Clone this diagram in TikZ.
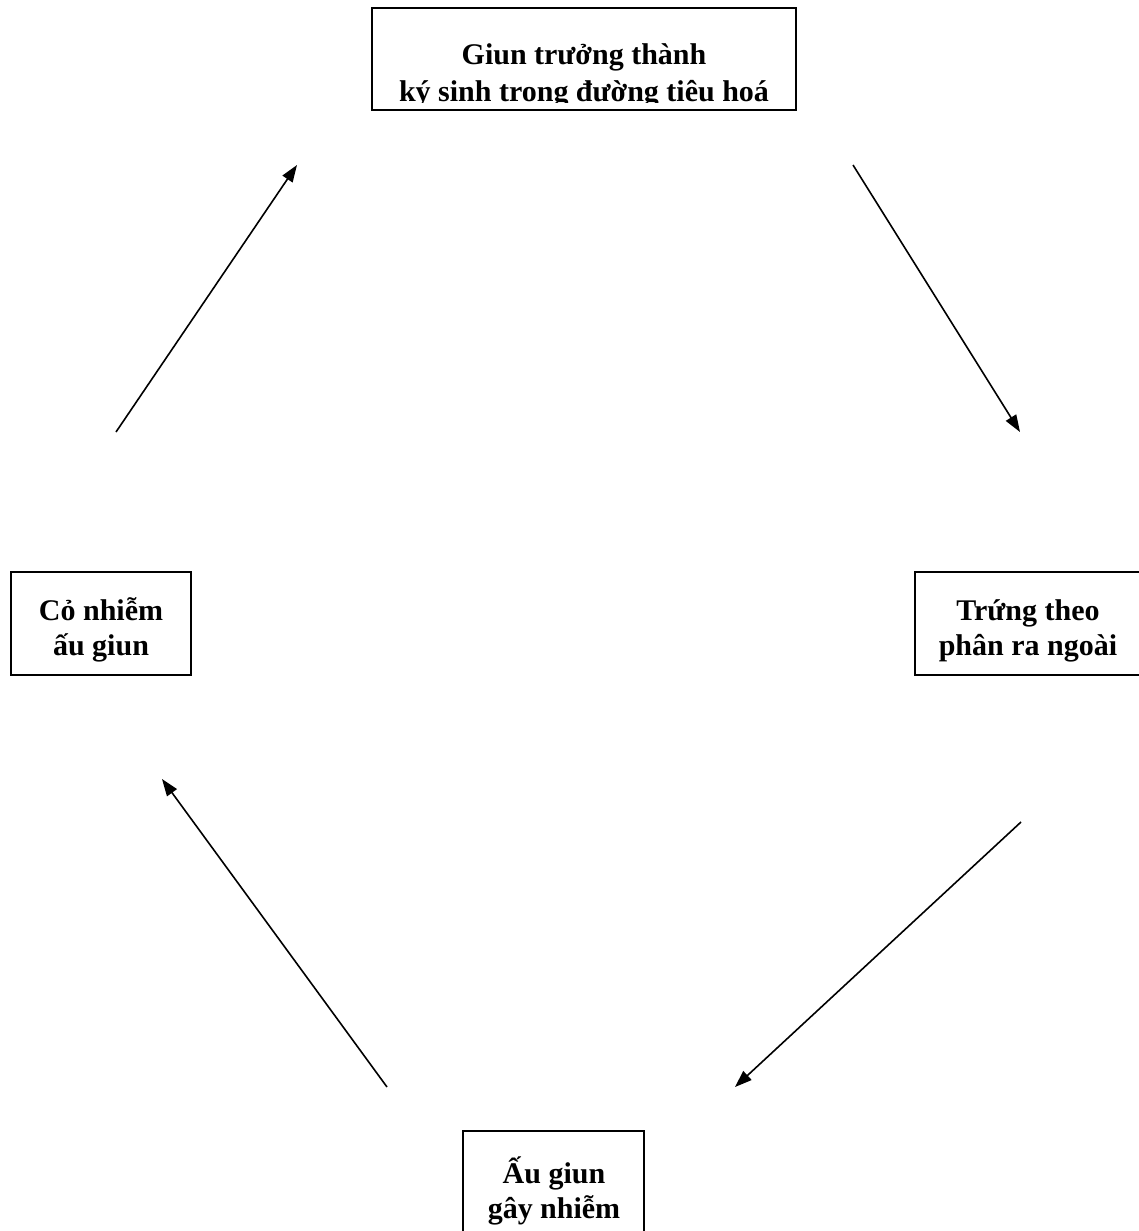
\documentclass[tikz,border=0pt]{standalone}
\usepackage{fontspec}
\setmainfont{Liberation Serif}
\usetikzlibrary{arrows.meta}
\begin{document}
\begin{tikzpicture}[x=1pt,y=-1pt,
  boxframe/.style={draw=black,line width=1.8pt},
  lbl/.style={align=center,font=\bfseries\fontsize{30}{35}\selectfont,inner sep=0pt},
  conn/.style={line width=1.6pt,-{Triangle[length=17pt,width=12pt]}}]
\useasboundingbox (0,0) rectangle (1139,1231);
% boxes
\draw[boxframe] (372,8) rectangle (796,110);
\draw[boxframe] (11,572) rectangle (191,675);
\draw[boxframe] (915,572) rectangle (1145,675);
\draw[boxframe] (463,1131) rectangle (644,1240);
% texts
\begin{scope}
\clip (372,8) rectangle (796,102);
\node[lbl,font=\bfseries\fontsize{30}{37}\selectfont] (adult) at (584,76) {Giun trưởng thành\\ký sinh trong đường tiêu hoá};
\end{scope}
\node[lbl] (grass) at (101,630) {Cỏ nhiễm\\ấu giun};
\node[lbl] (eggs) at (1028,631) {Trứng theo\\phân ra ngoài};
\node[lbl] (larva) at (554,1191) {Ấu giun\\gây nhiễm};
% connector end points
\coordinate (a1s) at (116,432); \coordinate (a1e) at (297,165);
\coordinate (a2s) at (853,165); \coordinate (a2e) at (1020,432);
\coordinate (a3s) at (1021,822); \coordinate (a3e) at (735,1087);
\coordinate (a4s) at (387,1087); \coordinate (a4e) at (162,779);
\draw[conn] (a1s) -- (a1e);
\draw[conn] (a2s) -- (a2e);
\draw[conn] (a3s) -- (a3e);
\draw[conn] (a4s) -- (a4e);
\end{tikzpicture}
\end{document}
